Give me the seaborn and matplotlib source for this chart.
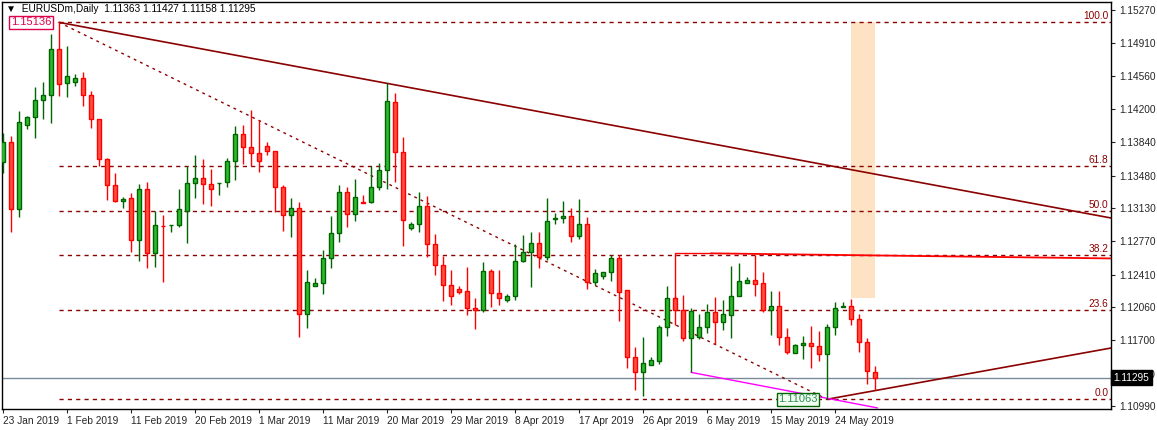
import numpy as np
import pandas as pd
import matplotlib
matplotlib.use("Agg")
import matplotlib.pyplot as plt
import seaborn as sns

# ---------------- data ----------------
opens = [1.13624,1.13847,1.13116,1.14023,1.14117,1.14294,1.14348,1.14845,1.14477,1.14495,
         1.14539,1.14348,1.14088,1.13656,1.13375,1.13209,1.13235,1.12781,1.13332,1.12640,
         1.12937,1.12943,1.12943,1.13101,1.13397,1.13451,1.13389,1.13397,1.13415,1.13642,
         1.13926,1.13789,1.13721,1.13796,1.13742,1.13353,1.13051,1.13126,1.11981,1.12283,
         1.12316,1.12586,1.12856,1.13299,1.13062,1.13193,1.13191,1.13353,1.13537,1.14272,
         1.13732,1.12910,1.12953,1.13148,1.12737,1.12510,1.12294,1.12251,1.12229,1.12046,
         1.12024,1.12445,1.12215,1.12132,1.12175,1.12554,1.12651,1.12748,1.12597,1.13013,
         1.13018,1.13040,1.12831,1.12953,1.12334,1.12399,1.12435,1.12586,1.12240,1.11523,
         1.11354,1.11430,1.11480,1.11840,1.12154,1.12024,1.11721,1.11739,1.11840,1.12002,
         1.11894,1.11970,1.12175,1.12323,1.12348,1.12316,1.12024,1.12067,1.11732,1.11559,
         1.11646,1.11667,1.11635,1.11548,1.11840,1.12065,1.12067,1.11927,1.11678,1.11363]
closes = [1.13847,1.13116,1.14056,1.14117,1.14294,1.14348,1.14845,1.14467,1.14553,1.14539,
          1.14348,1.14088,1.13656,1.13375,1.13209,1.13231,1.12781,1.13332,1.12640,1.12943,
          1.12933,1.12950,1.13116,1.13397,1.13451,1.13386,1.13332,1.13404,1.13634,1.13926,
          1.13786,1.13721,1.13642,1.13742,1.13353,1.13051,1.13126,1.11981,1.12327,1.12316,
          1.12586,1.12856,1.13299,1.13062,1.13245,1.13189,1.13353,1.13537,1.14283,1.13732,
          1.12997,1.12953,1.13148,1.12737,1.12510,1.12294,1.12175,1.12226,1.12046,1.12024,
          1.12445,1.12215,1.12154,1.12175,1.12554,1.12651,1.12748,1.12597,1.12986,1.13017,
          1.13040,1.12831,1.12953,1.12334,1.12424,1.12435,1.12586,1.12226,1.11523,1.11354,
          1.11455,1.11487,1.11840,1.12154,1.12024,1.11721,1.12013,1.11840,1.12002,1.11894,
          1.11984,1.12175,1.12337,1.12348,1.12312,1.12024,1.12067,1.11732,1.11570,1.11646,
          1.11667,1.11635,1.11548,1.11840,1.12046,1.12069,1.11927,1.11678,1.11365,1.11295]
highs = [1.13937,1.13908,1.14178,1.14124,1.14434,1.14492,1.15011,1.15136,1.14881,1.14578,
         1.14600,1.14391,1.14088,1.13670,1.13505,1.13245,1.13289,1.13393,1.13407,1.13094,
         1.13051,1.12950,1.13335,1.13580,1.13703,1.13660,1.13552,1.13404,1.13670,1.14016,
         1.14027,1.14189,1.14081,1.13843,1.13742,1.13379,1.13238,1.13195,1.12460,1.12373,
         1.12676,1.13044,1.13379,1.13357,1.13443,1.13270,1.13584,1.13613,1.14477,1.14373,
         1.13897,1.12979,1.13303,1.13260,1.12849,1.12615,1.12460,1.12287,1.12492,1.12157,
         1.12546,1.12471,1.12460,1.12201,1.12741,1.12838,1.12871,1.12871,1.13238,1.13076,
         1.13206,1.13130,1.13227,1.13033,1.12471,1.12435,1.12622,1.12622,1.12240,1.11628,
         1.11736,1.11520,1.11865,1.12287,1.12179,1.12190,1.12046,1.11984,1.12092,1.12168,
         1.12136,1.12503,1.12536,1.12384,1.12618,1.12438,1.12233,1.12233,1.11833,1.11656,
         1.11747,1.11855,1.11801,1.11876,1.12110,1.12110,1.12143,1.11981,1.11721,1.11427]
lows = [1.13505,1.12874,1.13036,1.13984,1.13890,1.14096,1.14052,1.14341,1.14333,1.14452,
        1.14236,1.13998,1.13588,1.13216,1.13198,1.13134,1.12658,1.12561,1.12478,1.12496,
        1.12334,1.12874,1.12928,1.12748,1.13242,1.13177,1.13155,1.13274,1.13361,1.13436,
        1.13609,1.13580,1.13523,1.13706,1.13083,1.12885,1.12820,1.11739,1.11837,1.12283,
        1.12204,1.12485,1.12766,1.12928,1.12993,1.13180,1.13188,1.13325,1.13339,1.13415,
        1.12723,1.12892,1.12874,1.12604,1.12406,1.12128,1.12085,1.12197,1.11970,1.11826,
        1.12010,1.12056,1.12085,1.12110,1.12139,1.12550,1.12280,1.12485,1.12564,1.12961,
        1.12971,1.12766,1.12795,1.12251,1.12294,1.12366,1.12345,1.11912,1.11404,1.11167,
        1.11102,1.11430,1.11448,1.11750,1.11865,1.11696,1.11354,1.11711,1.11783,1.11656,
        1.11815,1.11729,1.12175,1.12323,1.12182,1.12002,1.11761,1.11653,1.11548,1.11559,
        1.11502,1.11404,1.11480,1.11063,1.11761,1.12065,1.11862,1.11577,1.11231,1.11158]

date_labels = ["23 Jan 2019","1 Feb 2019","11 Feb 2019","20 Feb 2019","1 Mar 2019",
               "11 Mar 2019","20 Mar 2019","29 Mar 2019","8 Apr 2019","17 Apr 2019",
               "26 Apr 2019","6 May 2019","15 May 2019","24 May 2019"]
price_ticks = [1.15270,1.14910,1.14560,1.14200,1.13840,1.13480,1.13130,1.12770,
               1.12410,1.12060,1.11700,1.11340,1.10990]
fib_ratios = [0.0, 23.6, 38.2, 50.0, 61.8, 100.0]
fib_high, fib_low = 1.15136, 1.11063
last_close = 1.11295
header = "EURUSDm,Daily  1.11363 1.11427 1.11158 1.11295"

df = pd.DataFrame({"open": opens, "close": closes, "high": highs, "low": lows})
df["idx"] = np.arange(len(df))
df["up"] = df["close"] >= df["open"]

# ---------------- style ----------------
sns.set_style("white")
plt.rcParams["font.family"] = ["Liberation Sans", "DejaVu Sans"]
FS = 7.3

W, H = 1157, 430
fig = plt.figure(figsize=(W / 100, H / 100), dpi=100)
ax = fig.add_axes([2 / W, (430 - 409) / H, (1111 - 2) / W, (409 - 2) / H])
XR = 138.5
ax.set_xlim(-0.125, XR)
ax.set_ylim(1.10958, 1.15356)

maroon = "#8B0000"

# fib levels
for r in fib_ratios:
    p = fib_low + (fib_high - fib_low) * r / 100
    ax.plot([7, XR], [p, p], ls=(0, (3, 3)), color=maroon, lw=1, zorder=1)
    ax.text(XR - 0.3, p + 0.0001, f"{r:.1f}", ha="right", va="bottom",
            fontsize=FS, color=maroon, zorder=5)

# orange zone
ax.fill_between([106, 109], [fib_high] * 2, [1.12157] * 2, color="#FDE3C4", lw=0, zorder=0.5)

# current price line
ax.axhline(last_close, color="#7a8b9c", lw=1, zorder=1)

# trend lines
sns.lineplot(x=[7, XR], y=[fib_high, 1.13022], color=maroon, lw=1.2, ax=ax, zorder=2)
sns.lineplot(x=[103, XR], y=[fib_low, 1.11617], color=maroon, lw=1.2, ax=ax, zorder=2)
ax.plot([7, 103], [fib_high, fib_low], ls=(0, (2, 3)), color=maroon, lw=1, zorder=2)
ax.plot([86, 109.3], [1.11354, 1.1097], color="#FF00FF", lw=1, zorder=2, clip_on=False)
ax.plot([84, 84, 88.5], [1.12154, 1.12640, 1.12640], color="red", lw=1, zorder=2)
ax.plot([88.5, XR], [1.12640, 1.12585], color="red", lw=1.3, zorder=2)

# candles
bw = 0.62
for up, fc, ec in [(True, "#2DB82D", "#006400"), (False, "#FF5040", "#FF0000")]:
    sub = df[df["up"] == up]
    ax.vlines(sub["idx"], sub["low"], sub["high"], color=ec, lw=1, zorder=3)
    body = (sub["close"] - sub["open"]).abs().clip(lower=0.00004)
    bottom = sub[["open", "close"]].min(axis=1)
    ax.bar(sub["idx"], body, bottom=bottom, width=bw, color=fc, edgecolor=ec,
           linewidth=1, zorder=4)

# price labels
ax.text(1.0, fib_high, "1.15136", color="#E0004A", fontsize=8, va="center", ha="left",
        bbox=dict(boxstyle="square,pad=0.15", fc="white", ec="#E0004A", lw=1), zorder=6)
ax.text(96.9, fib_low, "1.11063", color="#2E8B57", fontsize=8, va="center", ha="left",
        bbox=dict(boxstyle="square,pad=0.15", fc="#F0FFF0", ec="#006400", lw=1), zorder=6)
ax.text(0.004, 0.982, "\u25BC  " + header, transform=ax.transAxes, fontsize=FS,
        va="center", ha="left", color="black", zorder=6)

# axes
ax.yaxis.tick_right()
ax.set_yticks(price_ticks)
ax.set_yticklabels([f"{v:.5f}" for v in price_ticks], fontsize=FS)
ax.tick_params(axis="y", direction="out", length=3, pad=3, right=True, left=False)
ax.set_xticks(np.arange(len(date_labels)) * 8)
ax.set_xticklabels(date_labels, fontsize=FS, ha="left")
ax.tick_params(axis="x", direction="out", length=3, pad=2, bottom=True)
ax.text(1.002, (last_close - 1.10958) / (1.15356 - 1.10958), "1.11295",
        transform=ax.transAxes, fontsize=FS, color="white", va="center", ha="left",
        bbox=dict(boxstyle="square,pad=0.25", fc="black", ec="black"), zorder=6)
for s in ax.spines.values():
    s.set_color("black")
    s.set_linewidth(1)
ax.grid(False)
ax.set_xlabel("")
ax.set_ylabel("")

fig.savefig("out.png", dpi=100)
